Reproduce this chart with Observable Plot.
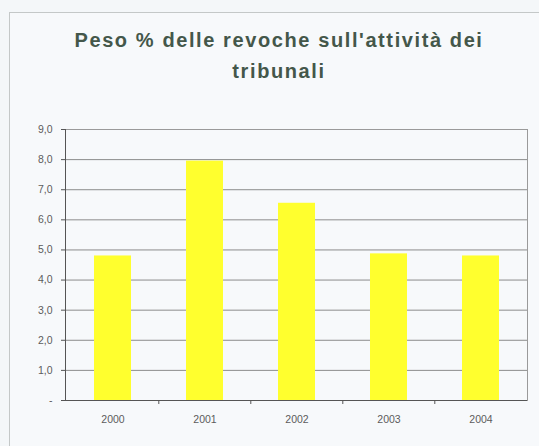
<!DOCTYPE html>
<html><head><meta charset="utf-8">
<script src="https://cdn.jsdelivr.net/npm/d3@7"></script>
<script src="https://cdn.jsdelivr.net/npm/@observablehq/plot@0.6"></script>
<style>
html,body{margin:0;padding:0;background:#f4f7f9;overflow:hidden;width:539px;height:446px}
#frame{position:absolute;left:9px;top:12px;width:620px;height:520px;border:1px solid #c4c8c8;background:#f7f9fb}
#title{position:absolute;left:0;top:25px;width:558px;text-align:center;font:bold 20px "Liberation Sans",Arial,sans-serif;letter-spacing:1.6px;line-height:31px;color:#44574a}
#chart{position:absolute;left:0;top:0}
</style></head><body>
<div id="frame"></div>
<div id="chart"></div>
<div id="title">Peso % delle revoche sull'attività dei<br>tribunali</div>
<script>
const years = ["2000", "2001", "2002", "2003", "2004"];
const values = [4.8, 7.95, 6.55, 4.87, 4.8];
const yTicks = [0, 1, 2, 3, 4, 5, 6, 7, 8, 9];

const data = years.map((y, i) => ({year: y, value: values[i]}));
const W = 539, H = 446, mL = 65, mR = 12, mT = 129, mB = 46;
const plotH = H - mT - mB;
const step = (W - mL - mR) / years.length;
const fmt = v => v === 0 ? "-" : d3.format(".1f")(v).replace(".", ",");

const chart = Plot.plot({
  width: W, height: H,
  marginLeft: mL, marginRight: mR, marginTop: mT, marginBottom: mB,
  style: {background: "transparent", fontFamily: "Liberation Sans, Arial, sans-serif", fontSize: "10.5px", color: "#5c5c5c"},
  x: {domain: years, paddingInner: 0.6, paddingOuter: 0.3, label: null},
  y: {domain: [0, 9], label: null},
  marks: [
    Plot.gridY(yTicks.slice(1), {stroke: "#8c8c8c", strokeOpacity: 1}),
    Plot.frame({stroke: "#9a9a9a"}),
    Plot.barY(data, {x: "year", y: "value", fill: "#ffff2e"}),
    Plot.ruleY([0], {stroke: "#555"}),
    Plot.frame({anchor: "left", stroke: "#555"}),
    Plot.ruleX(years.slice(1), {x: d => d, dx: -step / 2, insetTop: plotH, insetBottom: -4, stroke: "#555"}),
    Plot.axisY(yTicks, {tickSize: 4, tickPadding: 9, tickFormat: fmt, stroke: "#555", fill: "#5c5c5c", label: null}),
    Plot.axisX(years, {tickSize: 0, tickPadding: 15, fill: "#5c5c5c", label: null})
  ]
});
document.getElementById("chart").appendChild(chart);
</script>
</body></html>
